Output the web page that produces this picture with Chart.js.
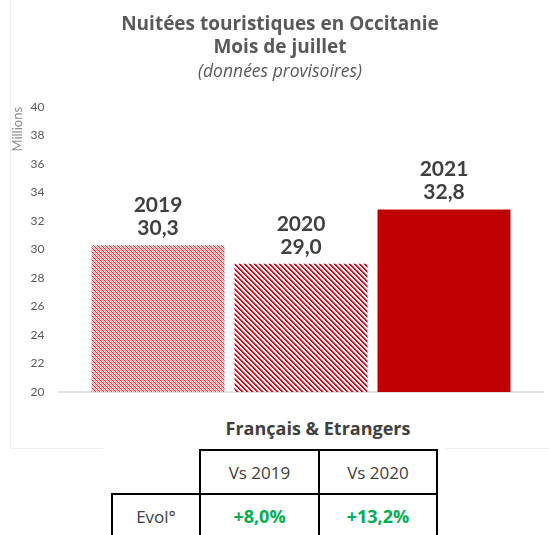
<!DOCTYPE html>
<html lang="fr">
<head>
<meta charset="utf-8">
<script src="https://cdn.jsdelivr.net/npm/chart.js"></script>
<style>
  html, body { margin: 0; padding: 0; background: #fff; }
  body { width: 549px; height: 535px; overflow: hidden; position: relative; font-family: "Open Sans", sans-serif; }
  #frame {
    position: absolute; left: 10px; top: 0; width: 560px; height: 448px;
    border-left: 1px solid #efefef; border-bottom: 1px solid #efefef;
  }
  #chart { position: absolute; left: 0; top: 0; }
  #table-box {
    position: absolute; left: 103px; top: 412px; width: 343px; height: 130px; background: #fff;
  }
  #table-title {
    position: absolute; left: 200px; top: 416px; width: 236px; text-align: center;
    font: bold 18px "Open Sans", sans-serif; color: #404040;
  }
  #evol {
    position: absolute; left: 111px; top: 449px; border-collapse: collapse; table-layout: fixed;
  }
  #evol td {
    border: 2px solid #000; text-align: center; font-size: 17px; color: #404040; padding: 0;
  }
  #evol tr { height: 44px; }
  #evol td.empty { border-top: none; border-left: none; }
  #evol td.pos { color: #00b050; font-weight: bold; font-size: 18px; }
</style>
</head>
<body>
<div id="frame"></div>
<canvas id="chart" width="549" height="448"></canvas>
<div id="table-box"></div>
<div id="table-title"></div>
<table id="evol"></table>
<script>
// Nuitées touristiques, mois de juillet (millions)
const years = ['2019', '2020', '2021'];
const nights = [30.3, 29.0, 32.8];
const yTicks = { min: 20, max: 40, step: 2 };

// tableau d'évolution
const tableTitle = 'Français & Etrangers';
const rowLabel = 'Evol°';
const evolHeaders = ['Vs 2019', 'Vs 2020'];
const evolValues = ['+8,0%', '+13,2%'];

const RED = '#c00000';

// motif pointillé fin (2019)
function dottedPattern() {
    const c = document.createElement('canvas');
    c.width = 4; c.height = 4;
    const g = c.getContext('2d');
    g.fillStyle = '#fbe3e3';
    g.fillRect(0, 0, 4, 4);
    for (let i = 0; i < 4; i++) {
        g.fillStyle = '#d42a34';
        g.fillRect(i, i, 1, 1);
        g.fillStyle = '#eea2a6';
        g.fillRect((i + 2) % 4, i, 1, 1);
    }
    return g.createPattern(c, 'repeat');
}

// hachures diagonales larges (2020)
function stripePattern() {
    const n = 5;
    const c = document.createElement('canvas');
    c.width = n; c.height = n;
    const g = c.getContext('2d');
    g.fillStyle = '#ffffff';
    g.fillRect(0, 0, n, n);
    for (let y = 0; y < n; y++) {
        for (let x = 0; x < n; x++) {
            const k = ((x - y) % n + n) % n;
            if (k === 0 || k === 1) {
                g.fillStyle = '#cc1020';
                g.fillRect(x, y, 1, 1);
            } else if (k === 2) {
                g.fillStyle = '#ec9a9e';
                g.fillRect(x, y, 1, 1);
            }
        }
    }
    return g.createPattern(c, 'repeat');
}

const fmt = v => v.toFixed(1).replace('.', ',');

// ligne de base grise, un peu plus large que les barres
const baseLine = {
    id: 'baseLine',
    beforeDatasetsDraw(chart) {
        const { ctx, chartArea } = chart;
        const ext = (chartArea.right - chartArea.left) / years.length * 0.2;
        ctx.save();
        ctx.strokeStyle = '#e3e3e3';
        ctx.lineWidth = 2;
        ctx.beginPath();
        ctx.moveTo(chartArea.left - ext, chartArea.bottom);
        ctx.lineTo(chartArea.right + ext, chartArea.bottom);
        ctx.stroke();
        ctx.restore();
    }
};

// étiquettes "année / valeur" au-dessus des barres
const barLabels = {
    id: 'barLabels',
    afterDatasetsDraw(chart) {
        const { ctx } = chart;
        const meta = chart.getDatasetMeta(0);
        ctx.save();
        ctx.font = 'bold 21px Lato, sans-serif';
        ctx.fillStyle = '#404040';
        ctx.textAlign = 'center';
        ctx.textBaseline = 'middle';
        meta.data.forEach((bar, i) => {
            ctx.fillText(years[i], bar.x, bar.y - 40);
            ctx.fillText(fmt(nights[i]), bar.x, bar.y - 17);
        });
        ctx.restore();
    }
};

new Chart(document.getElementById('chart'), {
    type: 'bar',
    data: {
        labels: years,
        datasets: [{
            data: nights,
            backgroundColor: [dottedPattern(), stripePattern(), RED],
            borderWidth: 0,
            barPercentage: 0.93,
            categoryPercentage: 1
        }]
    },
    options: {
        responsive: false,
        devicePixelRatio: 1,
        animation: false,
        layout: {
            // gauche/droite choisis pour centrer le titre vers x=280
            padding: { left: 44.5, right: 33.5, top: 0, bottom: 56 }
        },
        plugins: {
            legend: { display: false },
            tooltip: { enabled: false },
            title: {
                display: true,
                text: ['Nuitées touristiques en Occitanie', 'Mois de juillet'],
                color: '#595959',
                font: { family: 'Open Sans', size: 19, weight: 'bold', lineHeight: 1.21 },
                padding: { top: 13.5, bottom: 0 }
            },
            subtitle: {
                display: true,
                text: '(données provisoires)',
                color: '#595959',
                font: { family: 'Open Sans', size: 17.5, style: 'italic', lineHeight: 1.2 },
                padding: { top: 2, bottom: 24.5 }
            }
        },
        scales: {
            x: {
                display: false
            },
            y: {
                min: yTicks.min,
                max: yTicks.max,
                grid: { display: false, drawTicks: false },
                border: { display: false },
                ticks: {
                    stepSize: yTicks.step,
                    // mirror évite le découpage des libellés hors de la boîte de l'axe
                    mirror: true,
                    padding: -56,
                    color: '#595959',
                    font: { family: 'Lato', size: 12 }
                },
                title: {
                    display: true,
                    text: 'Millions',
                    align: 'end',
                    color: '#8c8c8c',
                    font: { family: 'Lato', size: 13 },
                    padding: { top: -34, bottom: 0 }
                },
                afterFit(scale) {
                    scale.width = 42;
                }
            }
        }
    },
    plugins: [baseLine, barLabels]
});

// tableau sous le graphique
document.getElementById('table-title').textContent = tableTitle;
const table = document.getElementById('evol');
const colWidths = [88, 119, 118];
const colgroup = document.createElement('colgroup');
colWidths.forEach(w => {
    const col = document.createElement('col');
    col.style.width = w + 'px';
    colgroup.appendChild(col);
});
table.appendChild(colgroup);

const head = table.insertRow();
const corner = head.insertCell();
corner.className = 'empty';
evolHeaders.forEach(h => { head.insertCell().textContent = h; });

const row = table.insertRow();
row.insertCell().textContent = rowLabel;
evolValues.forEach(v => {
    const td = row.insertCell();
    td.textContent = v;
    td.className = 'pos';
});
</script>
</body>
</html>
